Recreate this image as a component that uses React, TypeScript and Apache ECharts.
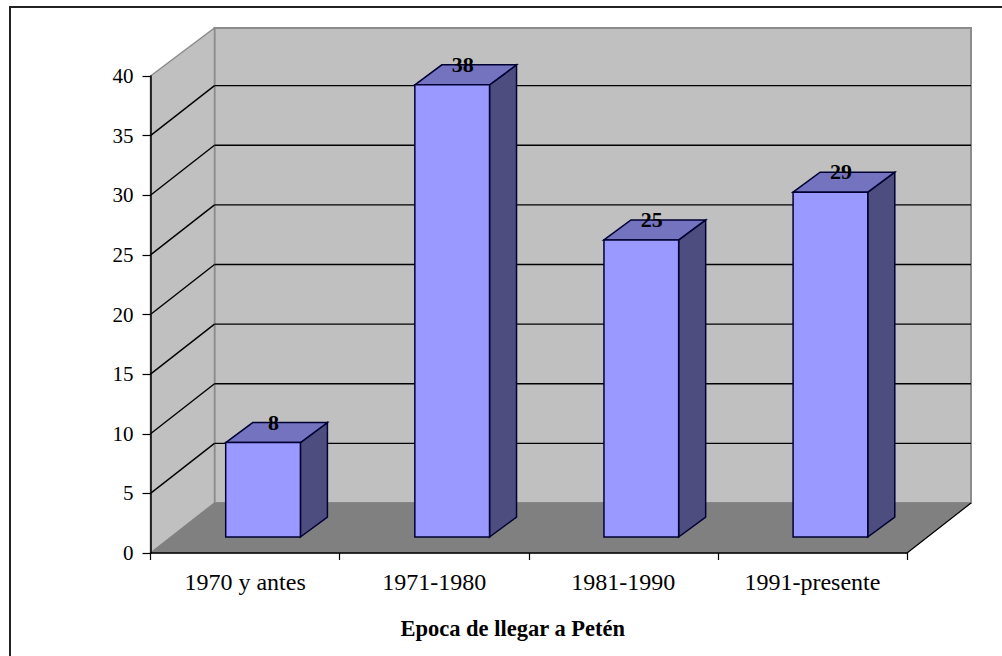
import React, { useEffect, useRef } from "react";
import * as echarts from "echarts";

const categories = ["1970 y antes", "1971-1980", "1981-1990", "1991-presente"];
const values = [8, 38, 25, 29];
const yTicks = [0, 5, 10, 15, 20, 25, 30, 35, 40];
const axisTitle = "Epoca de llegar a Petén";

const FONT = '"Liberation Serif", serif';
const DX = 64;
const DY = -50;
const WALL = "#C0C0C0";
const FLOOR = "#808080";
const EDGE = "#8C8C8C";
const OUTLINE = "#000033";

export default function App() {
  const ref = useRef<HTMLDivElement>(null);
  useEffect(() => {
    document.body.style.margin = "0";
    const chart = echarts.init(ref.current!, null, { renderer: "svg" });
    const poly = (points: number[][], fill: string, stroke: string | null, z2 = 0, lineWidth = 1) => ({
      type: "polygon",
      z2,
      shape: { points },
      style: { fill, stroke: stroke || "none", lineWidth },
    });
    const line = (a: number[], b: number[], z2 = 1, stroke = "#000", lineWidth = 1.4) => ({
      type: "line",
      z2,
      shape: { x1: a[0], y1: a[1], x2: b[0], y2: b[1] },
      style: { stroke, lineWidth },
    });
    chart.setOption({
      animation: false,
      backgroundColor: "#fff",
      grid: { left: 150.5, right: 95, top: 76, bottom: 103, containLabel: false },
      xAxis: {
        type: "category",
        data: categories,
        boundaryGap: true,
        name: axisTitle,
        nameLocation: "middle",
        nameGap: 64,
        nameTextStyle: {
          fontFamily: FONT,
          fontWeight: "bold",
          fontSize: 22.5,
          color: "#000",
          padding: [0, 32, 0, 0],
        },
        axisLine: { show: true, lineStyle: { color: "#000", width: 1.5 } },
        axisTick: { show: true, length: 7, alignWithLabel: false, lineStyle: { color: "#000", width: 1.2 } },
        axisLabel: { fontFamily: FONT, fontSize: 24, color: "#000", margin: 17 },
        splitLine: { show: false },
        z: 5,
      },
      yAxis: {
        type: "value",
        min: 0,
        max: 40,
        interval: 5,
        axisLine: { show: true, lineStyle: { color: "#000", width: 1.5 } },
        axisTick: { show: true, length: 8, lineStyle: { color: "#000", width: 1.2 } },
        axisLabel: { fontFamily: FONT, fontSize: 21, color: "#000", margin: 17, padding: [0, 0, 8, 0] },
        splitLine: { show: false },
        z: 5,
      },
      series: [
        {
          type: "custom",
          coordinateSystem: "cartesian2d",
          silent: true,
          z: 1,
          data: [[0, 0]],
          renderItem: (p: any, api: any) => {
            const cs: any = p.coordSys;
            const l = cs.x, r = cs.x + cs.width, t = cs.y, b = cs.y + cs.height;
            const wallTop = t + DY + 2;
            const children: any[] = [
              poly([[l + DX, wallTop], [r + DX, wallTop], [r + DX, b + DY], [l + DX, b + DY]], WALL, EDGE, 0, 2),
              poly([[l, t], [l + DX, wallTop], [l + DX, b + DY], [l, b]], WALL, EDGE, 0, 1.5),
              poly([[l, b], [l + DX, b + DY], [r + DX, b + DY], [r, b]], FLOOR, FLOOR),
              line([r, b], [r + DX, b + DY], 2, "#000", 1.2),
            ];
            yTicks.forEach((v) => {
              if (v === 0 || v === 40) return;
              const y = api.coord([0, v])[1];
              children.push(line([l, y], [l + DX, y + DY]));
              children.push(line([l + DX, y + DY], [r + DX, y + DY]));
            });
            return { type: "group", children };
          },
        },
        {
          type: "custom",
          coordinateSystem: "cartesian2d",
          silent: true,
          z: 2,
          data: values.map((v, i) => [i, v]),
          encode: { x: 0, y: 1 },
          renderItem: (_p: any, api: any) => {
            const cat = api.value(0), v = api.value(1);
            const band = api.size([1, 0])[0];
            const w = band * 0.395;
            const cx = api.coord([cat, 0])[0] + 18;
            const yb = api.coord([cat, 0])[1] - 16;
            const yt = api.coord([cat, v])[1] - 15;
            const x0 = cx - w / 2, x1 = cx + w / 2;
            const ddx = 27, ddy = -20;
            return {
              type: "group",
              children: [
                poly([[x1, yb], [x1 + ddx, yb + ddy], [x1 + ddx, yt + ddy], [x1, yt]], "#4D4D80", OUTLINE, 1, 1.5),
                poly([[x0, yt], [x0 + ddx, yt + ddy], [x1 + ddx, yt + ddy], [x1, yt]], "#7373BF", OUTLINE, 1, 1.5),
                poly([[x0, yb], [x1, yb], [x1, yt], [x0, yt]], "#9999FF", OUTLINE, 2, 1.5),
                {
                  type: "text",
                  z2: 5,
                  x: cx + ddx / 2 - 3,
                  y: yt + ddy - 0.5,
                  style: {
                    text: String(v),
                    fontFamily: FONT,
                    fontWeight: "bold",
                    fontSize: 22,
                    fill: "#000",
                    align: "center",
                    verticalAlign: "middle",
                  },
                },
              ],
            };
          },
        },
      ],
      graphic: [
        {
          type: "rect",
          z: -1,
          shape: { x: 10, y: 7, width: 1100, height: 800 },
          style: { fill: "#fff", stroke: "#222", lineWidth: 2 },
        },
      ],
    });
    return () => chart.dispose();
  }, []);
  return <div ref={ref} style={{ width: 1002, height: 656 }} />;
}
